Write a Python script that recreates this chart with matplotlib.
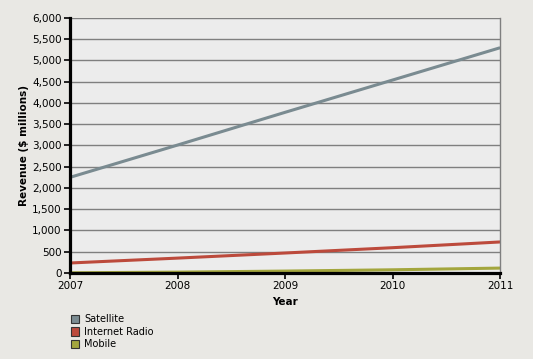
import matplotlib
matplotlib.use("Agg")
import matplotlib.pyplot as plt
from matplotlib.patches import Patch
from matplotlib.ticker import FuncFormatter

years = [2007, 2008, 2009, 2010, 2011]
satellite = [2250, 3010, 3780, 4540, 5300]
internet_radio = [235, 350, 470, 595, 730]
mobile = [5, 20, 45, 75, 115]

series_names = ["Satellite", "Internet Radio", "Mobile"]
series_colors = ["#7a8b91", "#bc4a3c", "#a3a63e"]

plt.rcParams['font.family'] = ['DejaVu Sans']

fig = plt.figure(figsize=(5.33, 3.59), dpi=100, facecolor="#e9e8e4")
ax = fig.add_axes([0.1313, 0.2396, 0.807, 0.7103])
ax.set_facecolor("#ececec")

for vals, col in zip([satellite, internet_radio, mobile], series_colors):
    ax.plot(years, vals, color=col, lw=2.2, solid_capstyle="butt")

ax.set_xlim(2007, 2011)
ax.set_ylim(0, 6000)
ax.set_xticks(years)
ax.set_yticks(range(0, 6001, 500))
ax.yaxis.set_major_formatter(FuncFormatter(lambda v, p: f"{int(v):,}"))
ax.grid(axis="y", color="#7f7f7f", lw=1)
ax.set_axisbelow(True)

ax.spines["top"].set_visible(False)
ax.spines["right"].set_color("#7f7f7f")
ax.spines["right"].set_linewidth(1)
ax.spines["left"].set_linewidth(2.3)
ax.spines["bottom"].set_linewidth(2.3)
ax.tick_params(axis="both", labelsize=7.5, length=4, width=1.2, color="black", pad=2)

ax.set_xlabel("Year", fontsize=7.5, fontweight="bold", labelpad=4)
ax.set_ylabel("Revenue ($ millions)", fontsize=7.5, fontweight="bold", labelpad=2)

handles = [Patch(facecolor=c, edgecolor="#333333", lw=0.8) for c in series_colors]
fig.legend(handles, series_names, loc="upper left", bbox_to_anchor=(0.125, 0.135),
           frameon=False, fontsize=7, handlelength=0.9, handleheight=0.9,
           handletextpad=0.5, labelspacing=0.25, borderaxespad=0)

fig.savefig("out.png", dpi=100, facecolor=fig.get_facecolor())
